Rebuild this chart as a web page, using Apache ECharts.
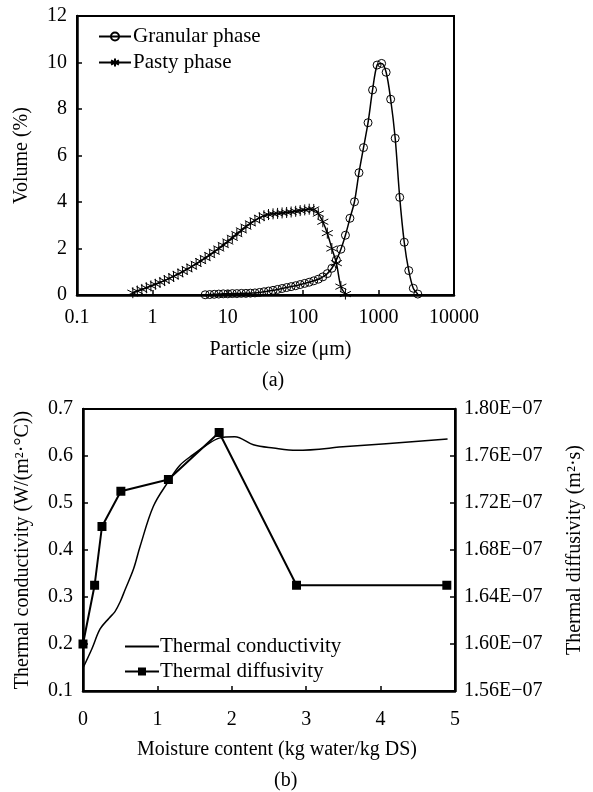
<!DOCTYPE html>
<html>
<head>
<meta charset="utf-8">
<script src="https://cdn.jsdelivr.net/npm/echarts@6/dist/echarts.min.js"></script>
<style>
  html, body { margin: 0; padding: 0; background: #fff; }
  #main { width: 593px; height: 792px; }
</style>
</head>
<body>
<div id="main"></div>
<script>
// (a) particle size distribution
var granularSize = [5.012, 5.754, 6.607, 7.586, 8.710, 10.00, 11.48, 13.18, 15.14, 17.38, 19.95, 22.91, 26.30, 30.20, 34.67, 39.81, 45.71, 52.48, 60.26, 69.18, 79.43, 91.20, 104.7, 120.2, 138.0, 158.5, 182.0, 208.9, 239.9, 275.4, 316.2, 363.1, 416.9, 478.6, 549.5, 631.0, 724.4, 831.8, 955.0, 1096, 1259, 1445, 1660, 1905, 2188, 2512, 2884, 3311];
var granularVol = [0.01, 0.02, 0.03, 0.04, 0.05, 0.05, 0.06, 0.06, 0.07, 0.07, 0.08, 0.09, 0.11, 0.14, 0.17, 0.20, 0.24, 0.28, 0.32, 0.36, 0.40, 0.45, 0.50, 0.55, 0.61, 0.68, 0.78, 0.92, 1.15, 1.51, 1.97, 2.57, 3.30, 4.01, 5.26, 6.34, 7.41, 8.82, 9.89, 9.96, 9.58, 8.42, 6.74, 4.20, 2.27, 1.05, 0.29, 0.04];
var pastySize = [0.550, 0.631, 0.724, 0.832, 0.955, 1.096, 1.259, 1.445, 1.660, 1.905, 2.188, 2.512, 2.884, 3.311, 3.802, 4.365, 5.012, 5.754, 6.607, 7.586, 8.710, 10.00, 11.48, 13.18, 15.14, 17.38, 19.95, 22.91, 26.30, 30.20, 34.67, 39.81, 45.71, 52.48, 60.26, 69.18, 79.43, 91.20, 104.7, 120.2, 138.0, 158.5, 182.0, 208.9, 239.9, 275.4, 316.2, 363.1];
var pastyVol = [0.10, 0.17, 0.24, 0.31, 0.39, 0.46, 0.54, 0.62, 0.71, 0.80, 0.90, 1.00, 1.11, 1.22, 1.34, 1.46, 1.59, 1.72, 1.86, 2.00, 2.15, 2.30, 2.46, 2.62, 2.78, 2.94, 3.08, 3.21, 3.32, 3.41, 3.46, 3.49, 3.51, 3.53, 3.55, 3.57, 3.60, 3.63, 3.66, 3.69, 3.68, 3.50, 3.15, 2.66, 2.00, 1.37, 0.36, 0.04];

// (b) thermal properties vs moisture
var condMoisture = [0, 0.12, 0.23, 0.35, 0.43, 0.50, 0.567, 0.68, 0.768, 0.946, 1.148, 1.30, 1.48, 1.65, 1.83, 2.04, 2.29, 2.56, 2.87, 3.54, 4.90];
var condValue = [0.149, 0.19, 0.232, 0.255, 0.269, 0.29, 0.316, 0.36, 0.408, 0.493, 0.546, 0.58, 0.603, 0.622, 0.638, 0.641, 0.624, 0.617, 0.612, 0.620, 0.636];
var diffMoisture = [0, 0.156, 0.255, 0.509, 1.148, 1.83, 2.87, 4.89];
var diffValue = [1.60e-7, 1.65e-7, 1.70e-7, 1.73e-7, 1.74e-7, 1.78e-7, 1.65e-7, 1.65e-7];

function pairs(xs, ys) {
  var out = [];
  for (var i = 0; i < xs.length; i++) out.push([xs[i], ys[i]]);
  return out;
}

var font = "'Liberation Serif', 'Times New Roman', serif";
var fs = 20;
var axLine = { show: true, lineStyle: { color: '#000', width: 2.5 } };
var axTick = { show: true, inside: true, length: 5, lineStyle: { color: '#000', width: 1.5 } };
var starPath = 'path://M5,0 L5,10 M0.67,2.5 L9.33,7.5 M0.67,7.5 L9.33,2.5';

var chart = echarts.init(document.getElementById('main'), null, { renderer: 'canvas' });

chart.setOption({
  backgroundColor: '#fff',
  animation: false,
  textStyle: { fontFamily: font },
  grid: [
    { left: 77, top: 16, width: 377, height: 279, show: true, borderColor: '#000', borderWidth: 2 },
    { left: 83, top: 409, width: 373, height: 282, show: true, borderColor: '#000', borderWidth: 2 }
  ],
  legend: [
    {
      data: ['Granular phase', 'Pasty phase'],
      orient: 'vertical', left: 98, top: 26, padding: 0,
      itemWidth: 32, itemHeight: 10, itemGap: 5,
      textStyle: { color: '#000', fontFamily: font, fontSize: 21, padding: [0, 0, 0, -3] }
    },
    {
      data: [
        { name: 'Thermal conductivity', itemStyle: { opacity: 0 } },
        'Thermal diffusivity'
      ],
      orient: 'vertical', left: 124, top: 636, padding: 0,
      itemWidth: 34, itemHeight: 10, itemGap: 4,
      textStyle: { color: '#000', fontFamily: font, fontSize: 21, padding: [0, 0, 0, -4] }
    }
  ],
  xAxis: [
    {
      gridIndex: 0, type: 'log', logBase: 10, min: 0.1, max: 10000,
      name: 'Particle size (\u03bcm)', nameLocation: 'middle', nameGap: 45,
      nameTextStyle: { color: '#000', fontFamily: font, fontSize: fs, padding: [0, 0, 0, 30] },
      axisLine: axLine, axisTick: axTick, splitLine: { show: false },
      axisLabel: { color: '#000', fontFamily: font, fontSize: fs, margin: 13,
        formatter: function (v) { return v < 1 ? '0.1' : String(Math.round(v)); } }
    },
    {
      gridIndex: 1, type: 'value', min: 0, max: 5, interval: 1,
      name: 'Moisture content (kg water/kg DS)', nameLocation: 'middle', nameGap: 49,
      nameTextStyle: { color: '#000', fontFamily: font, fontSize: fs, padding: [0, 0, 0, 16] },
      axisLine: axLine, axisTick: axTick, splitLine: { show: false },
      axisLabel: { color: '#000', fontFamily: font, fontSize: fs, margin: 19 }
    }
  ],
  yAxis: [
    {
      gridIndex: 0, type: 'value', min: 0, max: 12, interval: 2,
      name: 'Volume (%)', nameLocation: 'middle', nameGap: 45,
      nameTextStyle: { color: '#000', fontFamily: font, fontSize: fs },
      axisLine: axLine, axisTick: axTick, splitLine: { show: false },
      axisLabel: { color: '#000', fontFamily: font, fontSize: fs, margin: 10 }
    },
    {
      gridIndex: 1, type: 'value', min: 0.1, max: 0.7, interval: 0.1,
      name: 'Thermal conductivity (W/(m\u00b2\u00b7\u00b0C))', nameLocation: 'middle', nameGap: 50,
      nameTextStyle: { color: '#000', fontFamily: font, fontSize: fs },
      axisLine: axLine, axisTick: axTick, splitLine: { show: false },
      axisLabel: { color: '#000', fontFamily: font, fontSize: fs, margin: 10,
        formatter: function (v) { return v.toFixed(1); } }
    },
    {
      gridIndex: 1, type: 'value', position: 'right', min: 1.56e-7, max: 1.80e-7, interval: 0.04e-7,
      name: 'Thermal diffusivity (m\u00b2\u00b7s)', nameLocation: 'middle', nameGap: 110,
      nameTextStyle: { color: '#000', fontFamily: font, fontSize: fs },
      axisLine: axLine, axisTick: axTick, splitLine: { show: false },
      axisLabel: { color: '#000', fontFamily: font, fontSize: fs, margin: 9,
        formatter: function (v) { return (v * 1e7).toFixed(2) + 'E\u221207'; } }
    }
  ],
  graphic: [
    { type: 'text', left: 262, top: 371, style: { text: '(a)', fill: '#000', font: fs + 'px ' + font } },
    { type: 'text', left: 274, top: 771, style: { text: '(b)', fill: '#000', font: fs + 'px ' + font } }
  ],
  series: [
    {
      name: 'Granular phase', type: 'line', xAxisIndex: 0, yAxisIndex: 0,
      data: pairs(granularSize, granularVol), smooth: 0.3,
      symbol: 'circle', symbolSize: 8,
      itemStyle: { color: 'rgba(255,255,255,0)', borderColor: '#000', borderWidth: 1 },
      lineStyle: { color: '#000', width: 1.5 }
    },
    {
      name: 'Pasty phase', type: 'line', xAxisIndex: 0, yAxisIndex: 0,
      data: pairs(pastySize, pastyVol), smooth: 0.3,
      symbol: starPath, symbolSize: 11,
      itemStyle: { color: 'rgba(0,0,0,0)', borderColor: '#000', borderWidth: 1 },
      lineStyle: { color: '#000', width: 1.5 }
    },
    {
      name: 'Thermal conductivity', type: 'line', xAxisIndex: 1, yAxisIndex: 1,
      data: pairs(condMoisture, condValue), smooth: 0.35,
      symbol: 'none', showSymbol: false,
      itemStyle: { color: '#000' },
      lineStyle: { color: '#000', width: 1.5 }
    },
    {
      name: 'Thermal diffusivity', type: 'line', xAxisIndex: 1, yAxisIndex: 2,
      data: pairs(diffMoisture, diffValue),
      symbol: 'rect', symbolSize: 9,
      itemStyle: { color: '#000' },
      lineStyle: { color: '#000', width: 2 }
    }
  ]
});
</script>
</body>
</html>
